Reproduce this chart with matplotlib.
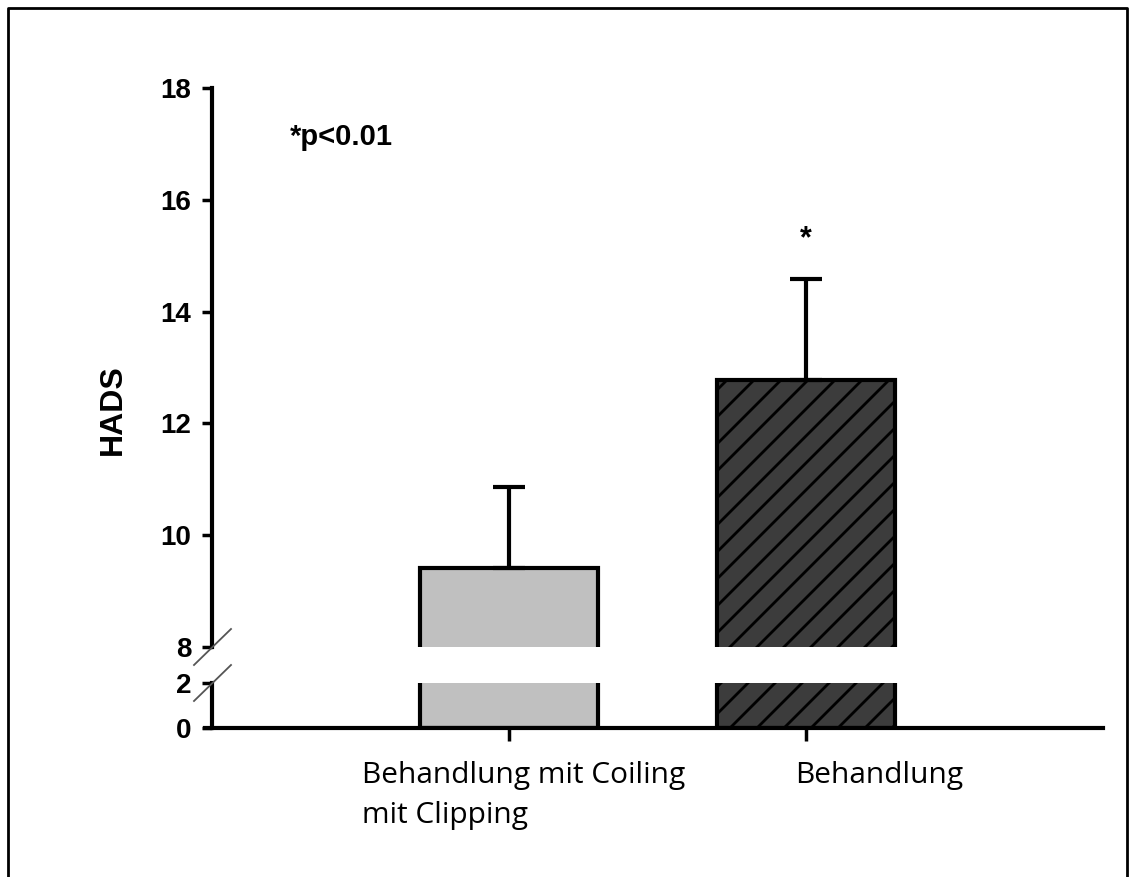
import numpy as np
import matplotlib
matplotlib.use("Agg")
import matplotlib.pyplot as plt
from matplotlib.lines import Line2D
from matplotlib.collections import LineCollection
from matplotlib.transforms import IdentityTransform, TransformedPatchPath

# HADS scores per treatment group
groups = ["Behandlung mit Coiling\nmit Clipping", "Behandlung"]
means = [9.41, 12.78]
errors = [1.45, 1.80]
fills = ["#c0c0c0", "#3c3c3c"]
hatched = [False, True]
upper_ticks = [8, 10, 12, 14, 16, 18]
lower_ticks = [0, 2]
sig_marks = ["", "*"]
note = "*p<0.01"
ylabel = "HADS"

W, H = 1129, 877
fig = plt.figure(figsize=(W / 100, H / 100), dpi=100)


def fx(px):
    return px / W


def fy(py):
    return 1 - py / H


left, right = fx(212), fx(1103)
ax_top = fig.add_axes([left, fy(647), right - left, fy(88) - fy(647)])
ax_bot = fig.add_axes([left, fy(728), right - left, fy(683) - fy(728)])


def add_hatch(ax, patch, spacing=27, lw=2.0):
    """Diagonal hatch lines in pixel space, clipped to a bar and its axes."""
    offsets = np.arange(-H, W + H, spacing)
    segs = [[(o, 0), (o + H, H)] for o in offsets]
    lc = LineCollection(segs, colors="black", linewidths=lw,
                        transform=IdentityTransform(), zorder=3)
    ax.add_collection(lc, autolim=False)
    lc.set_clip_path(TransformedPatchPath(patch))
    lc.set_clip_box(ax.bbox)


xpos = [1, 2]
for ax in (ax_top, ax_bot):
    bars = ax.bar(xpos, means, width=0.6, color=fills, edgecolor="black",
                  linewidth=3, zorder=2)
    for b, h in zip(bars, hatched):
        if h:
            add_hatch(ax, b)
    ax.set_xlim(0, 3)
    for s in ("top", "right"):
        ax.spines[s].set_visible(False)
    ax.spines["left"].set_linewidth(3)
    ax.tick_params(axis="y", width=2.5, length=7, labelsize=20, pad=8)

# error bars (upper direction only)
ax_top.errorbar(xpos, means, yerr=[[0, 0], errors], fmt="none",
                ecolor="black", elinewidth=3, capsize=11.5, capthick=3, zorder=4)

ax_top.set_ylim(8, 18)
ax_top.set_yticks(upper_ticks)
ax_top.spines["bottom"].set_visible(False)
ax_top.set_xticks([])

ax_bot.set_ylim(0, 2)
ax_bot.set_yticks(lower_ticks)
ax_bot.spines["bottom"].set_linewidth(3)
ax_bot.spines["bottom"].set_bounds(-0.025, 3)
ax_bot.set_xticks(xpos)
ax_bot.set_xticklabels([])
ax_bot.tick_params(axis="x", direction="out", length=9, width=2.5)

for ax in (ax_top, ax_bot):
    for lab in ax.get_yticklabels():
        lab.set_fontweight("bold")
        lab.set_family("Liberation Sans")

# break marks on the y axis
for py in (647, 683):
    fig.add_artist(Line2D([fx(194), fx(231)], [fy(py + 18), fy(py - 18)],
                          color="#555555", lw=1.3))

# significance markers
for x, s in zip(xpos, sig_marks):
    if s:
        ax_top.text(x, 15.3, s, ha="center", va="center", fontsize=22,
                    fontweight="bold", family="Liberation Sans")
fig.text(fx(290), fy(137), note, ha="left", va="center", fontsize=21,
         fontweight="bold", family="Liberation Sans")

fig.text(fx(113), fy(410), ylabel, rotation=90, ha="center", va="center",
         fontsize=23, fontweight="bold", family="Liberation Sans")

# category captions
first, second = groups[0].split("\n")
cap_kw = dict(ha="left", va="center", fontsize=21.5, family="Open Sans")
fig.text(fx(362), fy(776), first, **cap_kw)
fig.text(fx(362), fy(815), second, **cap_kw)
fig.text(fx(795), fy(776), groups[1], **cap_kw)

# outer frame
fig.add_artist(Line2D([fx(8), fx(8), fx(1127), fx(1127)],
                      [fy(877), fy(8), fy(8), fy(877)], color="black", lw=2))

fig.savefig("out.png", dpi=100)
